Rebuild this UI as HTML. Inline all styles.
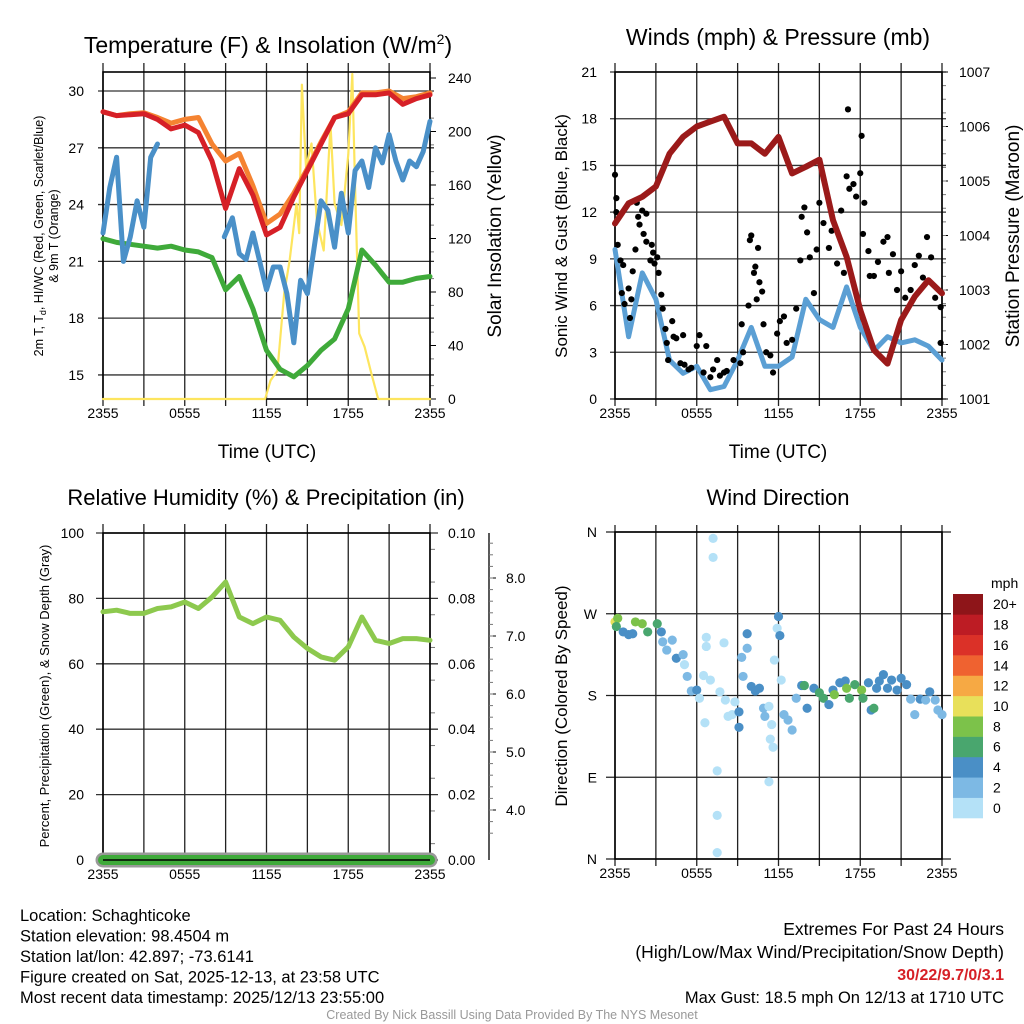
<!DOCTYPE html>
<html><head><meta charset="utf-8"><style>
body{margin:0;background:#fff;width:1024px;height:1024px;overflow:hidden}
svg{display:block;font-family:"Liberation Sans",sans-serif}
</style></head><body>
<svg id="c" width="1024" height="1024" viewBox="0 0 1024 1024"></svg>
<script>
// ---------- DATA ----------
const hourTicks=["2355","0555","1155","1755","2355"];
const hours=[0,1,2,3,4,5,6,7,8,9,10,11,12,13,14,15,16,17,18,19,20,21,22,23,24];
const tempRed=[28.9,28.7,28.75,28.8,28.5,28.0,28.2,27.8,26.3,23.8,25.9,24.5,22.4,22.8,24.4,25.8,27.2,28.6,28.8,29.8,29.8,29.9,29.3,29.6,29.8];
const tempOrange=[28.9,28.7,28.8,28.85,28.6,28.3,28.5,28.6,27.2,26.3,26.7,25.0,23.0,23.5,24.6,25.9,27.3,28.6,28.9,29.9,29.9,30.0,29.6,29.7,29.9];
const dewGreen=[22.2,22.0,21.9,21.8,21.7,21.8,21.6,21.5,21.2,19.5,20.2,18.5,16.3,15.3,14.9,15.5,16.3,16.9,18.5,21.6,20.8,19.9,19.9,20.1,20.2];
const hiHours=[0,0.5,1,1.5,2,2.5,3,3.5,4,8.9,9.5,10,10.5,11,11.5,12,12.5,13,13.5,14,14.5,15,15.5,16,16.5,17,17.5,18,18.5,19,19.5,20,20.5,21,21.5,22,22.5,23,23.5,24];
const hiBlue=[22.5,24.9,26.5,21.0,22.3,24.2,22.8,26.5,27.2,22.3,23.3,21.4,21.1,22.5,21.0,19.5,20.7,20.7,19.3,16.7,20.0,19.3,21.75,24.2,23.7,21.75,24.6,22.5,25.8,26.3,24.9,27.0,26.2,27.7,26.3,25.3,26.3,26.0,26.8,28.4];
const solarHours=[0,11.9,12.3,12.8,13.3,13.7,14.2,14.4,14.6,14.9,15.3,15.7,16.2,16.7,17.0,17.5,18.0,18.3,18.5,18.8,19.2,19.7,20.2,24];
const solarVals=[0,0,14,21,79,104,146,124,235,173,191,133,111,205,146,130,183,243,158,49,39,19,0,0];
const presHours=hours;
const pressure=[1004.22,1004.59,1004.71,1004.9,1005.5,1005.81,1006.0,1006.09,1006.18,1005.69,1005.69,1005.5,1005.81,1005.14,1005.26,1005.39,1004.28,1003.61,1002.63,1001.9,1001.65,1002.45,1002.88,1003.18,1002.94];
const windSpeed=[9.6,4.0,8.1,6.4,2.5,1.65,2.1,0.6,0.8,2.5,4.6,2.1,2.1,2.7,6.4,5.1,4.6,7.2,4.6,3.1,4.0,3.6,3.8,3.4,2.5];
const gustHours=[0,0.1,0.1,0.2,0.4,0.5,0.6,0.7,1.0,1.1,1.2,1.3,1.5,1.6,1.7,1.8,2.0,2.1,2.3,2.3,2.6,2.7,2.8,2.9,3.1,3.2,3.4,3.5,3.7,3.8,3.9,4.2,4.3,4.5,4.8,5.0,5.1,5.4,5.6,6.0,6.2,6.5,6.7,7.0,7.2,7.5,7.7,8.0,8.2,8.7,9.2,9.3,9.4,9.8,9.9,10.0,10.2,10.3,10.5,10.4,10.6,10.8,10.9,11.1,11.4,11.6,11.9,12.1,12.4,12.6,13.0,13.3,13.6,13.7,13.9,14.1,14.3,14.6,14.8,15.0,15.3,15.7,15.9,16.3,16.6,16.8,17.0,17.1,17.2,17.5,17.7,18.0,18.1,18.2,18.3,18.6,18.7,19.0,19.3,19.7,20.0,20.1,20.4,20.7,21.0,21.3,21.7,22.0,22.3,22.6,22.9,23.2,23.5,23.9,23.9];
const gustVals=[14.4,12.9,12.0,9.9,8.9,6.8,8.6,6.1,7.1,5.2,6.4,8.2,9.6,12.6,11.7,11.2,12.1,10.6,11.9,10.1,8.9,9.9,9.4,8.7,9.1,8.1,6.7,5.8,4.5,3.6,2.5,5.0,4.0,3.9,2.3,4.1,2.2,1.9,2.0,3.4,4.1,1.7,3.4,1.4,1.9,2.5,1.5,1.7,1.8,2.5,2.3,4.8,3.0,6.0,10.2,10.5,8.1,8.5,9.7,6.4,7.5,6.9,4.8,3.0,2.8,1.7,4.2,5.0,5.3,3.6,3.8,5.8,8.9,11.7,12.3,10.7,9.1,6.8,9.6,12.6,11.3,9.7,10.8,8.7,12.1,8.1,14.3,18.6,13.5,13.8,13.0,14.5,16.9,10.6,12.6,9.5,7.9,7.9,8.8,10.1,10.4,8.1,9.3,7.0,8.2,6.5,7.0,8.6,9.2,7.8,10.4,9.1,6.5,5.9,3.6];
const rh=[75.9,76.4,75.4,75.4,76.9,77.4,78.9,76.9,80.4,85.0,74.3,72.3,74.3,73.3,68.2,64.7,62.1,61.1,65.2,74.3,67.2,66.2,67.7,67.7,67.2];
const dirHours=[0,0.2,0.1,0.6,1.0,1.3,1.5,2.0,2.4,3.1,3.4,3.5,3.8,4.2,4.5,5.0,5.1,5.3,5.6,6.0,6.2,6.5,6.6,6.7,6.7,7.0,7.2,7.2,7.5,7.5,7.5,7.7,8.0,8.1,8.3,8.6,8.8,9.1,9.1,9.3,9.4,9.7,9.7,10.0,10.3,10.6,10.9,11.0,11.3,11.5,11.4,11.6,11.3,11.7,11.9,12.0,12.1,12.2,12.4,12.7,13.0,13.3,13.7,13.9,14.1,14.6,15.0,15.3,15.7,16.0,16.1,16.5,16.9,17.0,17.2,17.6,18.1,18.2,18.6,18.8,19.0,19.2,19.4,19.7,20.0,20.3,20.7,21.0,21.4,21.7,22.0,22.4,22.8,23.1,23.5,23.7,24.0];
const dirVals=[261,265,256,250,247,248,261,259,250,259,250,239,230,241,221,225,214,201,185,186,177,202,150,244,234,197,353,332,97,48,7,184,238,175,157,159,173,162,145,222,201,248,232,190,185,188,166,157,168,148,132,123,85,219,254,267,246,197,159,153,142,177,191,191,166,188,183,177,170,186,181,194,196,188,177,192,186,177,194,164,166,188,196,203,188,197,186,199,192,176,159,176,175,184,175,164,159];
const dirSpeed=[10.5,8.5,7,5,5,5,8.5,8.5,7,7,5,3,3,3,5,3,1,3,3,5,1,1,1,1,1,1,1,1,1,1,1,1,1,1,1,1,1,5,5,3,3,5,3,5,5,5,3,3,1,1,1,1,1,1,1,5,5,1,3,3,3,3,5,7,5,5,7,7,5,5,9,5,5,9,7,7,9,7,5,5,7,5,5,5,5,5,5,5,5,3,3,5,3,5,3,3,3];
const cbLabels=["0","2","4","6","8","10","12","14","16","18","20+"];
const cbColors=["#b4e1f7","#7db9e4","#4a8fc6","#49a66e","#7cc24a","#e8e05a","#f6a944","#ef6230","#db3128","#bd1c24","#8e1519"];

// ---------- HELPERS ----------
const NS="http://www.w3.org/2000/svg";
const svg=document.getElementById('c');
function el(tag,attrs,parent){const e=document.createElementNS(NS,tag);for(const k in attrs)e.setAttribute(k,attrs[k]);(parent||svg).appendChild(e);return e;}
function group(name){const g=el('g',{});return g;}
function txt(g,x,y,s,size,anchor,rot,fill){const t=el('text',{x:x,y:y,'font-size':size,'text-anchor':anchor||'middle',fill:fill||'#000'},g);if(rot)t.setAttribute('transform','rotate('+rot+' '+x+' '+y+')');t.textContent=s;return t;}
function ln(g,x1,y1,x2,y2,c,w){return el('line',{x1:x1,y1:y1,x2:x2,y2:y2,stroke:c,'stroke-width':w},g);}
function poly(g,xs,ys,c,w,name){let cur=[];for(let i=0;i<xs.length;i++){cur.push(xs[i].toFixed(1)+','+ys[i].toFixed(1));}const p=el('polyline',{points:cur.join(' '),fill:'none',stroke:c,'stroke-width':w,'stroke-linejoin':'round','stroke-linecap':'round'},g);return p;}
function xAxisFn(L,R){return h=>L+h*(R-L)/24;}
function frame(g,L,R,T,B,tickTop){
  for(let i=0;i<=8;i++){const x=L+i*(R-L)/8;ln(g,x,tickTop,x,B+7,'#222',1.3);}
  el('rect',{x:L,y:T,width:R-L,height:B-T,fill:'none',stroke:'#000','stroke-width':1.6},g);
  hourTicks.forEach((s,i)=>{txt(g,L+i*(R-L)/4,B+19,s,14);});
}

// ---------- PANEL 1 ----------
(function(){
 const g=group('temperature-panel');
 const L=103,R=430,T=72,B=399;
 const x=xAxisFn(L,R);
 const yT=t=>91+(30-t)*18.93;
 const yS=w=>399-w*321/240;
 const lt=[15,18,21,24,27,30];
 lt.forEach(v=>{ln(g,98,yT(v),R+4,yT(v),'#333',1.3);txt(g,84,yT(v)+5,String(v),14,'end');});
 [0,40,80,120,160,200,240].forEach(v=>{ln(g,R,yS(v),R+6,yS(v),'#000',1);txt(g,448,yS(v)+5,String(v),14,'start');});
 for(let v=10;v<240;v+=20){ln(g,R,yS(v),R+4,yS(v),'#777',1);}
 frame(g,L,R,T,B,63);
 const title=txt(g,268,53,'Temperature (F) & Insolation (W/m',23);
 const tsp=el('tspan',{dy:-9,'font-size':14},title);tsp.textContent='2';
 const tsp2=el('tspan',{dy:9},title);tsp2.textContent=')';
 
 txt(g,267,458,'Time (UTC)',19);
 txt(g,501,236,'Solar Insolation (Yellow)',19,'middle',-90);
 const yl=txt(g,43,236,'2m T, T',12.5,'middle',-90);
 const sub=el('tspan',{dy:3,'font-size':9},yl);sub.textContent='d';
 const rest=el('tspan',{dy:-3},yl);rest.textContent=', HI/WC (Red, Green, Scarlet/Blue)';
 txt(g,58,236,'& 9m T (Orange)',12.5,'middle',-90);
 poly(g,solarHours.map(x),solarVals.map(yS),'#fde55e',2.2,'solar-line');
 poly(g,hours.map(x),dewGreen.map(yT),'#3faa3a',5,'dewpoint-line');
 poly(g,hiHours.slice(0,9).map(x),hiBlue.slice(0,9).map(yT),'#4a90c8',5,'heat-index-line-a');
 poly(g,hiHours.slice(9).map(x),hiBlue.slice(9).map(yT),'#4a90c8',5,'heat-index-line-b');
 poly(g,hours.map(x),tempOrange.map(yT),'#f58331',5,'temp-9m-line');
 poly(g,hours.map(x),tempRed.map(yT),'#d62027',5,'temp-2m-line');
})();

// ---------- PANEL 2 ----------
(function(){
 const g=group('winds-panel');
 const L=615,R=942,T=72,B=399;
 const x=xAxisFn(L,R);
 const yW=v=>399-v*327/21;
 const yP=p=>399-(p-1001)*54.5;
 [0,3,6,9,12,15,18,21].forEach(v=>{ln(g,610,yW(v),R+4,yW(v),'#333',1.3);txt(g,597,yW(v)+5,String(v),14,'end');});
 [1001,1002,1003,1004,1005,1006,1007].forEach(v=>{ln(g,R,yP(v),R+6,yP(v),'#000',1);txt(g,959,yP(v)+5,String(v),14,'start');});
 for(let v=1001.25;v<1007;v+=0.25){ln(g,R,yP(v),R+4,yP(v),'#777',1);}
 frame(g,L,R,T,B,63);
 txt(g,778,45,'Winds (mph) & Pressure (mb)',23);
 txt(g,778,458,'Time (UTC)',19);
 txt(g,567,236,'Sonic Wind & Gust (Blue, Black)',17,'middle',-90);
 txt(g,1019,236,'Station Pressure (Maroon)',19,'middle',-90);
 poly(g,hours.map(x),windSpeed.map(yW),'#5b9fd4',5,'wind-speed-line');
 gustHours.forEach((h,i)=>{const c=el('circle',{cx:x(h),cy:yW(gustVals[i]),r:3.1,fill:'#000'},g);
  
  });
 poly(g,presHours.map(x),pressure.map(yP),'#9b1a1a',6,'pressure-line');
})();

// ---------- PANEL 3 ----------
(function(){
 const g=group('humidity-panel');
 const L=103,R=430,T=533,B=860;
 const x=xAxisFn(L,R);
 const yR=v=>B-v*(B-T)/100;
 [0,20,40,60,80,100].forEach(v=>{ln(g,96,yR(v),R+8,yR(v),'#333',1.3);txt(g,84,yR(v)+5,String(v),14,'end');});
 ['0.00','0.02','0.04','0.06','0.08','0.10'].forEach((s,i)=>{txt(g,448,yR(i*20)+5,s,14,'start');});
 for(let v=5;v<100;v+=10){ln(g,R,yR(v),R+5,yR(v),'#777',1);}
 frame(g,L,R,T,B,524);
 ln(g,489,T,489,B,'#000',1.3);
 const yS=s=>810-(s-4)*58;
 [4,5,6,7,8].forEach(v=>{ln(g,489,yS(v),496,yS(v),'#000',1);txt(g,506,yS(v)+5,v.toFixed(1),14,'start');});
 for(let v=3.6;v<8.8;v+=0.2){if(yS(v)>T&&yS(v)<B)ln(g,489,yS(v),493,yS(v),'#777',1);}
 txt(g,266,505,'Relative Humidity (%) & Precipitation (in)',22);
 txt(g,49,696,'Percent, Precipitation (Green), & Snow Depth (Gray)',13,'middle',-90);
 const sg=ln(g,x(0),B,x(24),B,'#999',15);sg.setAttribute('stroke-linecap','round');
 
 
 const pg=ln(g,x(0),B,x(24),B,'#3faa3a',10);pg.setAttribute('stroke-linecap','round');
 
 
 ln(g,x(0),B,x(24),B,'#000',1.5);
 poly(g,hours.map(x),rh.map(yR),'#8dc94e',5,'rh-line');
})();

// ---------- PANEL 4 ----------
(function(){
 const g=group('wind-direction-panel');
 const L=615,R=942,T=532,B=859;
 const x=xAxisFn(L,R);
 const yD=d=>B-d*(B-T)/360;
 ['N','E','S','W','N'].forEach((s,i)=>{ln(g,606,yD(i*90),R+9,yD(i*90),'#222',1.3);txt(g,597,yD(i*90)+5,s,14,'end');});
 frame(g,L,R,T,B,525);
 txt(g,778,505,'Wind Direction',22);
 txt(g,567,696,'Direction (Colored By Speed)',17,'middle',-90);
 dirHours.forEach((h,i)=>{const s=dirSpeed[i];let k=Math.min(10,Math.floor(s/2));
  const c=el('circle',{cx:x(h),cy:yD(dirVals[i]),r:4.6,fill:cbColors[k]},g);
  
  });
 const cb=group('colorbar');
 const cbT=594,cbB=818,h=(cbB-cbT)/11;
 cbColors.forEach((c,i)=>{const r=el('rect',{x:953,y:cbB-(i+1)*h,width:30,height:h+0.3,fill:c},cb);
  
  
  txt(cb,993,cbB-(i+0.5)*h+5,cbLabels[i],14,'start');});
 txt(cb,991,588,'mph',14,'start');
})();

// ---------- FOOTER ----------
(function(){
 const g=group('footer-info');
 ['Location: Schaghticoke','Station elevation: 98.4504 m','Station lat/lon: 42.897; -73.6141','Figure created on Sat, 2025-12-13, at 23:58 UTC','Most recent data timestamp: 2025/12/13 23:55:00'].forEach((s,i)=>txt(g,20,921+i*20.5,s,16.5,'start'));
 txt(g,1004,935,'Extremes For Past 24 Hours',17.5,'end');
 txt(g,1004,958,'(High/Low/Max Wind/Precipitation/Snow Depth)',17.5,'end');
 const e=txt(g,1004,980,'30/22/9.7/0/3.1',16,'end',0,'#d62027');e.setAttribute('font-weight','bold');
 txt(g,1004,1003,'Max Gust: 18.5 mph On 12/13 at 1710 UTC',16.5,'end');
 txt(g,512,1019,'Created By Nick Bassill Using Data Provided By The NYS Mesonet',12.5,'middle',0,'#999');
})();
</script>
</body></html>
